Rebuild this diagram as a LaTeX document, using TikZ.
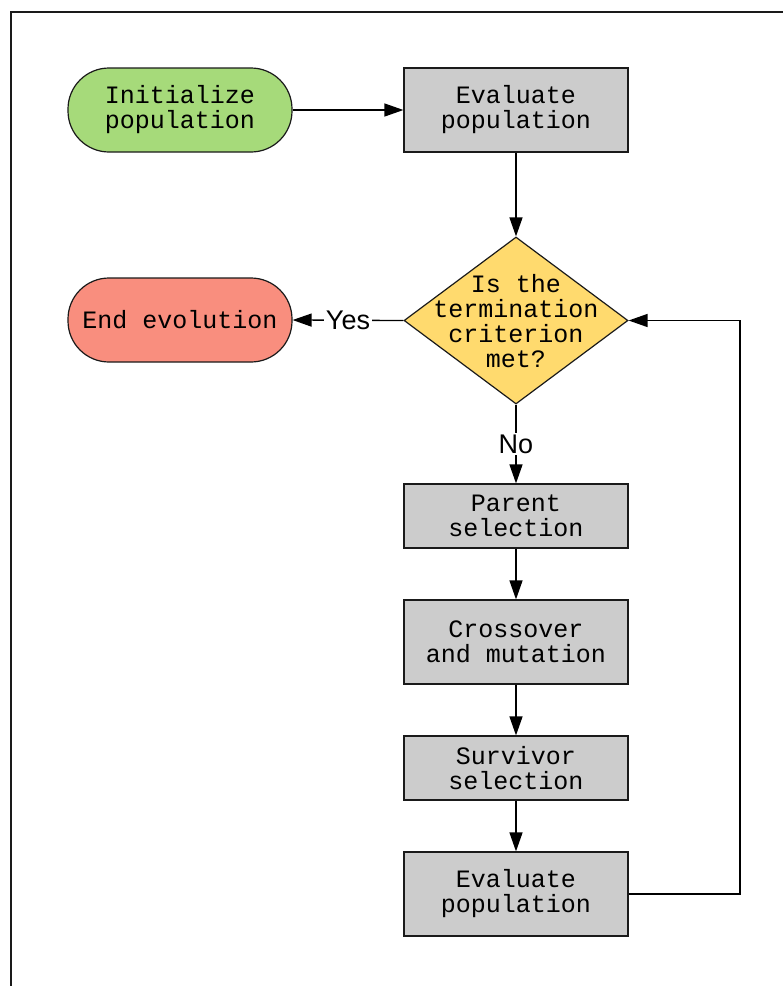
\documentclass[tikz,border=0pt]{standalone}
\usepackage{fontspec}
\setmonofont{Liberation Mono}
\newfontfamily\labelfont{Liberation Sans}
\usetikzlibrary{shapes.geometric,arrows.meta}
\definecolor{startgreen}{HTML}{A6DA7A}
\definecolor{endred}{HTML}{F98E7E}
\definecolor{decyellow}{HTML}{FFDA6E}
\definecolor{procgray}{HTML}{CCCCCC}
\definecolor{edgedark}{HTML}{1A1A1A}
\tikzset{
  boxfont/.style={font=\ttfamily\fontsize{25}{25}\selectfont, align=center},
  procbox/.style={boxfont, draw=edgedark, line width=1.2pt, fill=procgray, minimum width=224pt, inner sep=0pt},
  termbox/.style={boxfont, draw=edgedark, line width=1.2pt, minimum width=224pt, minimum height=84pt, rounded corners=41pt, inner sep=0pt},
  decbox/.style={diamond, draw=edgedark, line width=1.2pt, fill=decyellow, minimum width=224pt, minimum height=167pt, inner sep=0pt},
  flow/.style={draw=black, line width=1.3pt, -{Triangle[length=19pt,width=13pt]}},
  edgelabel/.style={font=\labelfont\fontsize{27}{27}\selectfont, fill=white, inner sep=2pt},
}
\begin{document}
\begin{tikzpicture}[x=1pt,y=-1pt]
\useasboundingbox (0,0) rectangle (783,986);
\clip (0,0) rectangle (783,986);
\draw[line width=2.2pt, draw=edgedark] (11,1000) -- (11,12) -- (800,12);

\node[termbox, fill=startgreen] (init) at (180,110) {Initialize\\population};
\node[procbox, minimum height=84pt] (eval1) at (516,110) {Evaluate\\population};
\node[decbox] (dec) at (516,320.5) {};
\node[boxfont] (dectext) at (516,321) {Is the\\termination\\criterion\\met?};
\node[termbox, fill=endred] (endev) at (180,320) {End evolution};
\node[procbox, minimum height=64pt] (parent) at (516,516) {Parent\\selection};
\node[procbox, minimum height=84pt] (cross) at (516,642) {Crossover\\and mutation};
\node[procbox, minimum height=64pt] (surv) at (516,768) {Survivor\\selection};
\node[procbox, minimum height=84pt] (eval2) at (516,894) {Evaluate\\population};
\coordinate (loop) at (740,894);

\draw[flow] (init) -- (eval1);
\draw[flow] (eval1) -- (dec);
\draw[flow] (dec.west) -- node[edgelabel] {Yes} (endev.east);
\draw[flow] (dec.south) -- node[edgelabel] {No} (parent.north);
\draw[flow] (parent) -- (cross);
\draw[flow] (cross) -- (surv);
\draw[flow] (surv) -- (eval2);
\draw[flow] (eval2.east) -- (loop) |- (dec.east);
\end{tikzpicture}
\end{document}
